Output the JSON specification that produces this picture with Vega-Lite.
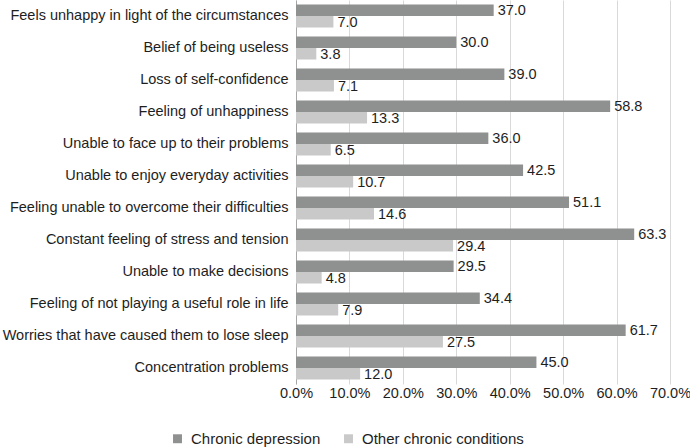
{
  "$schema": "https://vega.github.io/schema/vega-lite/v6.json",
  "width": 374,
  "height": 384,
  "autosize": {"type": "none"},
  "padding": {"left": 296, "top": 0, "right": 20, "bottom": 63},
  "config": {
    "font": "Liberation Sans",
    "view": {"stroke": null},
    "axis": {"labelFont": "Liberation Sans", "labelFontSize": 14.5, "labelColor": "#1e1e1e"},
    "legend": {"labelFont": "Liberation Sans", "labelFontSize": 15, "labelColor": "#1e1e1e"}
  },
  "data": {
    "values": [
      {"category": "Feels unhappy in light of the circumstances", "series": "Chronic depression", "value": 37.0},
      {"category": "Feels unhappy in light of the circumstances", "series": "Other chronic conditions", "value": 7.0},
      {"category": "Belief of being useless", "series": "Chronic depression", "value": 30.0},
      {"category": "Belief of being useless", "series": "Other chronic conditions", "value": 3.8},
      {"category": "Loss of self-confidence", "series": "Chronic depression", "value": 39.0},
      {"category": "Loss of self-confidence", "series": "Other chronic conditions", "value": 7.1},
      {"category": "Feeling of unhappiness", "series": "Chronic depression", "value": 58.8},
      {"category": "Feeling of unhappiness", "series": "Other chronic conditions", "value": 13.3},
      {"category": "Unable to face up to their problems", "series": "Chronic depression", "value": 36.0},
      {"category": "Unable to face up to their problems", "series": "Other chronic conditions", "value": 6.5},
      {"category": "Unable to enjoy everyday activities", "series": "Chronic depression", "value": 42.5},
      {"category": "Unable to enjoy everyday activities", "series": "Other chronic conditions", "value": 10.7},
      {"category": "Feeling unable to overcome their difficulties", "series": "Chronic depression", "value": 51.1},
      {"category": "Feeling unable to overcome their difficulties", "series": "Other chronic conditions", "value": 14.6},
      {"category": "Constant feeling of stress and tension", "series": "Chronic depression", "value": 63.3},
      {"category": "Constant feeling of stress and tension", "series": "Other chronic conditions", "value": 29.4},
      {"category": "Unable to make decisions", "series": "Chronic depression", "value": 29.5},
      {"category": "Unable to make decisions", "series": "Other chronic conditions", "value": 4.8},
      {"category": "Feeling of not playing a useful role in life", "series": "Chronic depression", "value": 34.4},
      {"category": "Feeling of not playing a useful role in life", "series": "Other chronic conditions", "value": 7.9},
      {"category": "Worries that have caused them to lose sleep", "series": "Chronic depression", "value": 61.7},
      {"category": "Worries that have caused them to lose sleep", "series": "Other chronic conditions", "value": 27.5},
      {"category": "Concentration problems", "series": "Chronic depression", "value": 45.0},
      {"category": "Concentration problems", "series": "Other chronic conditions", "value": 12.0}
    ]
  },
  "encoding": {
    "y": {
      "field": "category",
      "type": "nominal",
      "sort": null,
      "scale": {"paddingInner": 0.28, "paddingOuter": 0.14},
      "axis": {
        "title": null,
        "ticks": false,
        "labelPadding": 8,
        "domainColor": "#a6a6a6",
        "labelLimit": 320
      }
    },
    "yOffset": {"field": "series", "type": "nominal", "sort": ["Chronic depression", "Other chronic conditions"]},
    "x": {
      "field": "value",
      "type": "quantitative",
      "scale": {"domain": [0, 70], "nice": false},
      "axis": {
        "title": null,
        "values": [0, 10, 20, 30, 40, 50, 60, 70],
        "labelExpr": "format(datum.value, '.1f') + '%'",
        "labelOverlap": false,
        "labelFlush": false,
        "domain": false,
        "ticks": false,
        "gridColor": "#d9d9d9",
        "labelPadding": 2
      }
    }
  },
  "layer": [
    {
      "mark": {"type": "bar"},
      "encoding": {
        "color": {
          "field": "series",
          "type": "nominal",
          "sort": ["Chronic depression", "Other chronic conditions"],
          "scale": {"range": ["#8f9090", "#c9c9c9"]},
          "legend": {
            "title": null,
            "orient": "none",
            "direction": "horizontal",
            "legendX": -126,
            "legendY": 431,
            "symbolType": "square",
            "symbolSize": 80,
            "symbolStrokeWidth": 0,
            "columnPadding": 20,
            "labelOffset": 6,
            "labelLimit": 300
          }
        }
      }
    },
    {
      "mark": {"type": "text", "align": "left", "baseline": "middle", "dx": 4, "dy": 1, "fontSize": 14.5, "font": "Liberation Sans", "color": "#1e1e1e"},
      "encoding": {
        "text": {"field": "value", "type": "quantitative", "format": ".1f"}
      }
    }
  ]
}
